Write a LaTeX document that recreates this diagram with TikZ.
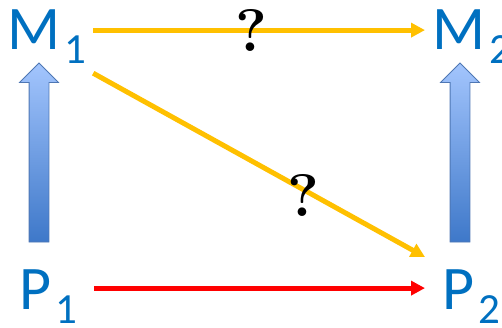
\documentclass[tikz,border=0pt]{standalone}
\usepackage{fontspec}
\newfontfamily\calfont{Carlito}
\usepackage{tikz}
\usetikzlibrary{arrows.meta,positioning,shapes.arrows}

\definecolor{txtblue}{HTML}{0070C0}
\definecolor{goldline}{HTML}{FFC000}
\definecolor{redline}{HTML}{FF0000}
\definecolor{arrowtop}{HTML}{A3C5FD}
\definecolor{arrowbot}{HTML}{3E78C9}
\definecolor{arrowrim}{HTML}{4E77B4}

% big letter with a dropped subscript
\newcommand{\bigsym}[2]{#1\hspace{4pt}\raisebox{-14pt}{\fontsize{43}{43}\selectfont #2}}

\begin{document}
\begin{tikzpicture}[x=1pt,y=-1pt,
  sym/.style={inner sep=0pt,anchor=base west,text=txtblue,font=\calfont\fontsize{62}{62}\selectfont},
  qmark/.style={inner sep=0pt,font=\bfseries\fontsize{60}{60}\selectfont},
  ylw/.style={draw=goldline,line width=5pt,-{Triangle[length=14pt,width=14pt]}},
  rd/.style={draw=redline,line width=5pt,-{Triangle[length=14pt,width=14pt]}},
  upblk/.style={single arrow,draw=arrowrim,line width=0.8pt,rotate=90,
    top color=arrowtop,bottom color=arrowbot,
    minimum height=179pt,inner xsep=0pt,inner ysep=9.5pt,
    single arrow head extend=9.5pt,single arrow tip angle=90,
    text height=0pt,text depth=0pt,text width=0pt}]
  \useasboundingbox (0,0) rectangle (502,328);
  \node[sym] (M1) at (7,50) {\bigsym{M}{1}};
  \node[sym] (M2) at (432,50) {\bigsym{M}{2}};
  \node[sym] (P1) at (19,309) {\bigsym{P}{1}};
  \node[sym] (P2) at (442,309) {\bigsym{P}{2}};
  \node[upblk] (up1) at (39,157.5) {};
  \node[upblk] (up2) at (460,157.5) {};
  \draw[ylw] ([xshift=7pt,yshift=7pt]M1.east) -- ([xshift=-7pt,yshift=7pt]M2.west);
  \draw[ylw] ([xshift=7pt,yshift=-9pt]M1.south east) -- ([xshift=-17pt,yshift=12pt]P2.north west);
  \draw[rd] ([xshift=17pt,yshift=8pt]P1.east) -- ([xshift=-17pt,yshift=8pt]P2.west);
  \node[qmark] (q1) at (251,31) {?};
  \node[qmark] (q2) at (303,196) {?};
\end{tikzpicture}
\end{document}
